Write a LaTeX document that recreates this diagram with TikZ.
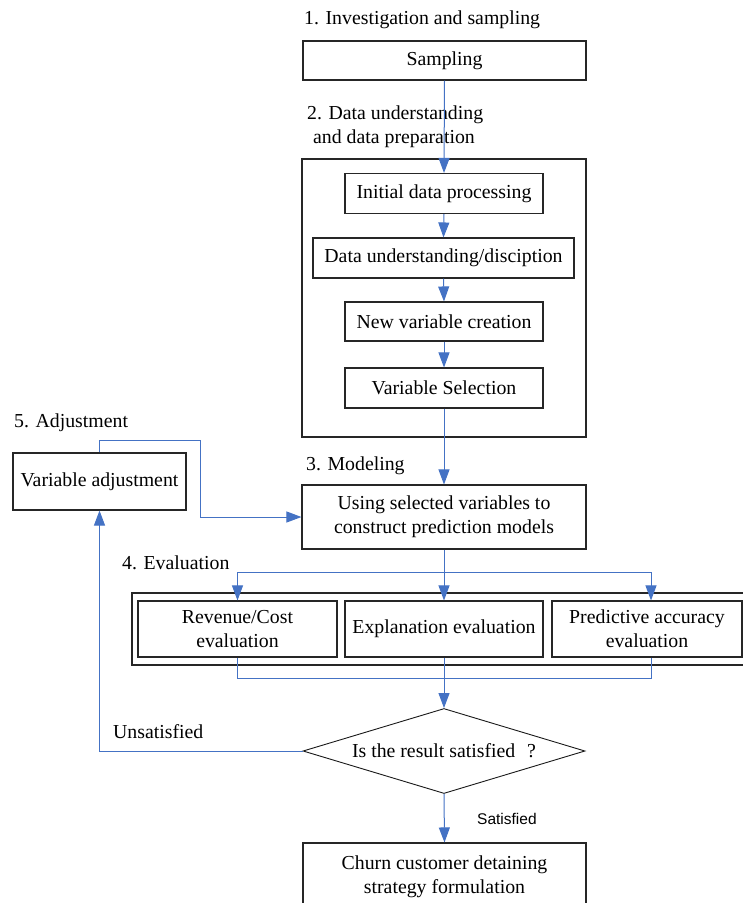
\documentclass[tikz,border=0pt]{standalone}
\usepackage{fontspec}
\setmainfont{Liberation Serif}
\newfontfamily\arialfont{Liberation Sans}
\usetikzlibrary{arrows.meta,shapes.geometric}
\definecolor{flowblue}{RGB}{68,114,196}
\begin{document}
\begin{tikzpicture}[x=1pt,y=-1pt,
	every node/.style={font=\fontsize{19.8}{24}\selectfont},
	box/.style={draw=black!85,line width=1.1pt,inner sep=0pt,align=center},
	stage/.style={anchor=base west,inner sep=0pt,align=left},
	decide/.style={diamond,draw=black!90,line width=0.9pt,aspect=3.3,minimum width=282pt,minimum height=85pt,inner sep=0pt},
	link/.style={draw=flowblue,line width=1pt},
	flow/.style={link,-{Triangle[width=11pt,length=15pt]}}]
	\useasboundingbox (0,0) rectangle (743,903);
	% stage titles
	\node[stage](t1) at (304,24){1. Investigation and sampling};
	\node[stage](t2) at (307,143){2. Data understanding\\\hspace*{6pt}and data preparation};
	\node[stage](t3) at (306,470){3. Modeling};
	\node[stage](t4) at (122,569){4. Evaluation};
	\node[stage](t5) at (14,427){5. Adjustment};
	% boxes
	\node[box,minimum width=283pt,minimum height=39pt](samp) at (444.5,60.5){Sampling};
	\node[box,minimum width=284pt,minimum height=278pt](prep) at (444,298){};
	\node[box,minimum width=198pt,minimum height=40pt](init) at (444,193.5){Initial data processing};
	\node[box,minimum width=261pt,minimum height=40pt](under) at (443.5,258){Data understanding/disciption};
	\node[box,minimum width=198pt,minimum height=39pt](newvar) at (444,321.5){New variable creation};
	\node[box,minimum width=198pt,minimum height=40pt](varsel) at (444,388){Variable Selection};
	\node[box,minimum width=284pt,minimum height=64pt](model) at (444,517){Using selected variables to\\construct prediction models};
	\node[box,minimum width=173pt,minimum height=57pt](adj) at (99.5,481.5){Variable adjustment};
	\node[box,minimum width=618pt,minimum height=72pt](evalbox) at (441,629){};
	\node[box,minimum width=199pt,minimum height=56pt](rev) at (237.5,629){Revenue/Cost\\evaluation};
	\node[box,minimum width=198pt,minimum height=56pt](expl) at (444,629){Explanation evaluation};
	\node[box,minimum width=190pt,minimum height=56pt](pred) at (647,629){Predictive accuracy\\evaluation};
	\node[decide](dec) at (444,751){Is the result satisfied\hspace{0.6em}?};
	\node[box,minimum width=283pt,minimum height=68pt](churn) at (444.5,877){Churn customer detaining\\strategy formulation};
	\node[stage](unsat) at (113,738){Unsatisfied};
	\node[stage,font=\arialfont\fontsize{15.5}{18}\selectfont](sat) at (477,824){Satisfied};
	% connectors
	\coordinate (split) at (444,572);
	\coordinate (join) at (444,678);
	\coordinate (bend) at (200,440);
	\draw[flow] (samp.south) -- (init.north);
	\draw[flow] (init.south) -- (under.north);
	\draw[flow] (under.south) -- (newvar.north);
	\draw[flow] (newvar.south) -- (varsel.north);
	\draw[flow] (varsel.south) -- (model.north);
	\draw[link] (model.south) -- (split);
	\draw[flow] (split) -- (expl.north);
	\draw[flow] (split) -| (rev.north);
	\draw[flow] (split) -| ([xshift=4pt]pred.north);
	\draw[link] (rev.south) |- (join) -| ([xshift=4pt]pred.south);
	\draw[flow] (expl.south) -- (dec.north);
	\draw[flow] (dec.south) -- (churn.north);
	\draw[flow] (dec.west) -| (adj.south);
	\draw[flow] (adj.north) |- (bend) |- (model.west);
\end{tikzpicture}
\end{document}
